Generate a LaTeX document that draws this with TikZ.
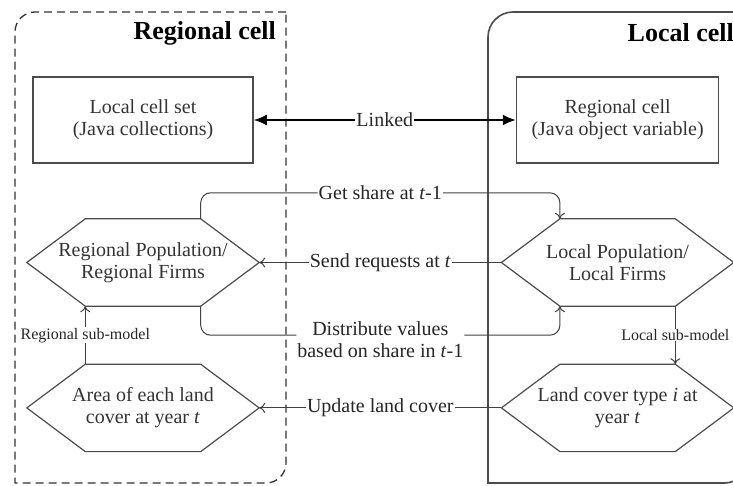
\documentclass[tikz,border=0pt]{standalone}
\usepackage{fontspec}
\setmainfont{Liberation Serif}
\usetikzlibrary{calc,positioning,arrows.meta}
\newcommand{\cellfont}{\fontsize{20}{22}\selectfont}
\newcommand{\subfont}{\fontsize{16}{18}\selectfont}
\tikzset{
>={To[length=6pt,width=10pt]},
  line/.style={draw, line width=1pt, black!75, ->},
  linked/.style={draw, line width=1.6pt, black, {Latex[length=13pt,width=11pt]}-{Latex[length=13pt,width=11pt]}},
  lbl/.style={fill=white, inner sep=1pt, align=center, text=black!85, font=\cellfont},
  sublbl/.style={fill=white, inner sep=0.5pt, text=black!85, font=\subfont},
  regframe/.style={draw=black!80, line width=1.3pt, dash pattern=on 8pt off 5pt},
  locframe/.style={draw=black!70, line width=1.6pt},
  hexline/.style={draw=black!70, line width=1.2pt},
}

\begin{document}
\begin{tikzpicture}[x=1pt, y=1pt, node distance=55pt]
  \tikzset{
      action/.style={rectangle, draw=black!70, line width=1.6pt, minimum height=86pt, align=center, text=black!80, font=\cellfont},
      hexa/.style={rectangle, minimum width=232pt, minimum height=87pt, inner sep=0pt, align=center, text=black!80, font=\cellfont},
      title/.style={anchor=east, inner sep=0pt, font=\fontsize{26}{30}\selectfont\bfseries},
  }
  \useasboundingbox (0,0) rectangle (733,485);
  % the two cells
  \draw[regframe] (286,473) -- (35,473) arc[start angle=90, end angle=180, radius=20] -- (15,2) -- (266,2) arc[start angle=-90, end angle=0, radius=20] -- cycle;
  \draw[locframe] (745,473) -- (513,473) arc[start angle=90, end angle=180, radius=25] -- (488,2) -- (725,2) arc[start angle=-90, end angle=0, radius=20] -- cycle;
  \node[title] (regtitle) at (276,452) {Regional cell};
  \node[title] (loctitle) at (734,452) {Local cell};

  \node[action, minimum width=220pt] (cellset) at (143,365) {Local cell set\\(Java collections)};
  \node[action, minimum width=202pt, right=262pt of cellset] (cellvar) {Regional cell\\(Java object variable)};
  \node[hexa, below=55pt of cellset] (regpop) {Regional Population/\\Regional Firms};
  \node[hexa, below=58pt of regpop] (regarea) {Area of each land\\cover at year \textit{t}};
  \node[hexa] (locpop) at (cellvar |- regpop) {Local Population/\\Local Firms};
  \node[hexa] (loccover) at (locpop |- regarea) {Land cover type \textit{i} at\\year \textit{t}};
  \foreach \h in {regpop,regarea,locpop,loccover}
    \draw[hexline] (\h.west) -- ([xshift=58.5pt]\h.north west) -- ([xshift=-58.5pt]\h.north east) -- (\h.east) -- ([xshift=-58.5pt]\h.south east) -- ([xshift=58.5pt]\h.south west) -- cycle;

  \path[linked] (cellset) -- node[lbl] {Linked} (cellvar);
  \path[line, rounded corners=10pt] ([xshift=-58.5pt]regpop.north east) -- ++(0,26) -- node[lbl] {Get share at \textit{t}-1} ([xshift=58.5pt,yshift=26pt]locpop.north west) -- ([xshift=58.5pt]locpop.north west);
  \path[line] (locpop.west) -- node[lbl] {Send requests at \textit{t}} (regpop.east);
  \path[line, rounded corners=10pt] ([xshift=-58.5pt]regpop.south east) -- ++(0,-29) -- node[lbl, yshift=-4pt] {Distribute values\\based on share in \textit{t}-1} ([xshift=58.5pt,yshift=-29pt]locpop.south west) -- ([xshift=58.5pt]locpop.south west);
  \path[line] (loccover.west) -- node[lbl] {Update land cover} (regarea.east);
  \path[line] ([xshift=58.5pt]regarea.north west) -- node[sublbl] {Regional sub-model} ([xshift=58.5pt]regpop.south west);
  \path[line] ([xshift=-58.5pt]locpop.south east) -- node[sublbl] {Local sub-model} ([xshift=-58.5pt]loccover.north east);
\end{tikzpicture}
\end{document}
